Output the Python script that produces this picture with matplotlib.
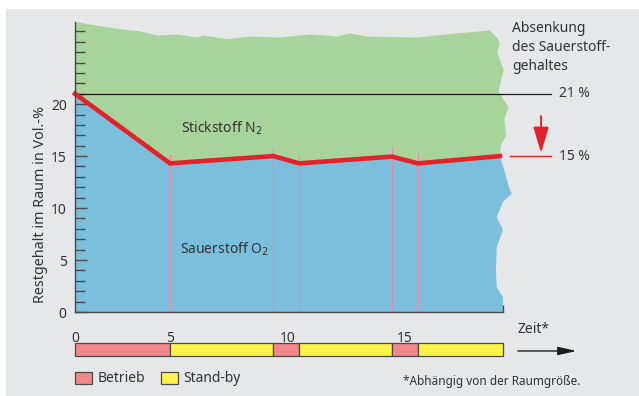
import numpy as np
import matplotlib.pyplot as plt
from matplotlib.patches import Rectangle, Patch

plt.rcParams['font.family'] = ['Noto Sans', 'DejaVu Sans']

# schematic time axis: 0..5 is drawn narrower than the rest
scale_t = [-50, 0, 5, 50]
scale_u = [-950, 0, 95, 95 + 45 * 23.5]

# operating phases shown in the bar below the chart
phase_edges = [0, 5, 9.4, 10.5, 14.45, 15.55, 19.17]
phase_names = ["Betrieb", "Stand-by", "Betrieb", "Stand-by", "Betrieb", "Stand-by"]
phase_colors = {"Betrieb": "#f1868b", "Stand-by": "#fff34a"}

# remaining oxygen (Vol.-%)
o2_t = [0, 5, 9.4, 10.5, 14.45, 15.55, 19.04]
o2_val = [21, 14.3, 15.0, 14.3, 14.95, 14.3, 15.0]
switch_top = [15.1, 15.8, 15.1, 15.8, 15.2]   # pink markers at o2_t[1:6]

# torn-paper edges of the coloured areas
n2_top_t = [0, 0.95, 2.37, 3.42, 4.32, 5.3, 6.15, 6.4, 7.43, 8.4, 9.68, 10.96,
            12.1, 12.66, 13.4, 15.5, 17.2, 18.2, 18.6, 18.9, 19.04]
n2_top_val = [27.9, 27.6, 27.2, 27.0, 26.6, 26.7, 26.4, 26.6, 26.25, 26.5, 26.4,
              26.7, 26.5, 26.8, 26.5, 26.4, 26.8, 27.0, 27.1, 26.4, 25.9]
n2_right_t = [19.0, 18.94, 19.2, 18.98, 19.4, 19.23, 19.3, 19.06, 19.04]
n2_right_val = [25.7, 24.9, 23.3, 21.2, 19.7, 18.5, 17.0, 15.9, 15.0]
o2_right_t = [19.47, 19.55, 19.17, 18.9, 19.17, 18.9, 18.87, 18.9, 19.17, 19.17]
o2_right_val = [11.7, 11.4, 10.6, 9.1, 7.9, 6.25, 4.0, 2.4, 1.4, 0]

t_end = 19.17
y_top = 27.9
start_level = 21
target_level = 15

green = "#a8d49b"
blue = "#7bbfdd"
red = "#e3232a"
pink = "#ec87ab"
txt = "#333333"
dark = "#4a4a4a"


def fwd(t):
    return np.interp(t, scale_t, scale_u)


def inv(u):
    return np.interp(u, scale_u, scale_t)


fig = plt.figure(figsize=(6.39, 3.96), dpi=100)
fig.patches.append(Rectangle((6 / 639, 0), 1, 1 - 9 / 396, transform=fig.transFigure,
                             facecolor="#e6e7e8", edgecolor="none", zorder=-10))

ax = fig.add_axes([75 / 639, 84 / 396, 428 / 639, 290 / 396])
ax.set_facecolor("none")
ax.set_xscale("function", functions=(fwd, inv))
ax.set_xlim(0, t_end)
ax.set_ylim(0, y_top)

# nitrogen area (above the O2 line)
gx = n2_top_t + n2_right_t + o2_t[::-1]
gy = n2_top_val + n2_right_val + o2_val[::-1]
ax.fill(gx, gy, color=green, lw=0, zorder=1, clip_on=False)
# oxygen area
bx = o2_t + o2_right_t + [0]
by = o2_val + o2_right_val + [0]
ax.fill(bx, by, color=blue, lw=0, zorder=1, clip_on=False)

for t, top in zip(o2_t[1:6], switch_top):
    ax.plot([t, t], [0, top], color=pink, lw=0.9, zorder=2)

ax.plot(o2_t, o2_val, color=red, lw=3.3, solid_joinstyle="miter", zorder=4, clip_on=False)

ax.plot([0, 21.2], [start_level, start_level], color="#1a1a1a", lw=0.9, zorder=3, clip_on=False)
ax.plot([19.47, 21.2], [target_level, target_level], color=red, lw=1.0, zorder=3, clip_on=False)
ax.text(21.55, start_level, "21 %", color=txt, fontsize=10, va="center", ha="left")
ax.text(21.55, target_level, "15 %", color=txt, fontsize=10, va="center", ha="left")
ax.annotate("", xy=(20.79, 15.3), xytext=(20.79, 18.85), annotation_clip=False,
            arrowprops=dict(arrowstyle="-|>,head_length=1.1,head_width=0.33",
                            mutation_scale=14.4, color=red, lw=1.4, shrinkA=0, shrinkB=0))
ax.text(19.55, 28.0, "Absenkung\ndes Sauerstoff-\ngehaltes", color=txt, fontsize=10,
        va="top", ha="left", linespacing=1.35)

ax.text(5.45, 17.7, "Stickstoff N$_2$", color=txt, fontsize=10, va="center", ha="left", zorder=5)
ax.text(5.43, 6.05, "Sauerstoff O$_2$", color=txt, fontsize=10, va="center", ha="left", zorder=5)

ax.spines[["top", "right"]].set_visible(False)
for s in ["left", "bottom"]:
    ax.spines[s].set_color(dark)
    ax.spines[s].set_linewidth(1.0)
    ax.spines[s].set_zorder(6)

ax.set_yticks([0, 5, 10, 15, 20])
ax.set_yticks(np.arange(1, 28), minor=True)
ax.tick_params(axis="y", which="major", direction="in", length=8.5, width=1.0,
               color=dark, labelcolor=txt, labelsize=10, pad=6)
ax.tick_params(axis="y", which="minor", direction="in", length=7.5, width=1.0, color=dark)
ax.set_xticks([0, 5, 10, 15])
ax.set_xticks([10, 15, t_end], minor=True)
ax.tick_params(axis="x", which="major", length=0, labelcolor=txt, labelsize=10, pad=14)
ax.tick_params(axis="x", which="minor", direction="in", length=5, width=1.0, color=dark)
ax.set_ylabel("Restgehalt im Raum in Vol.-%", color=txt, fontsize=10.3)
ax.yaxis.set_label_coords(-0.063, 0.369)

ax.text(19.77, -1.7, "Zeit*", color=txt, fontsize=10, va="center", ha="left")
ax.annotate("", xy=(22.3, -3.75), xytext=(19.8, -3.75), annotation_clip=False,
            arrowprops=dict(arrowstyle="-|>,head_length=0.8,head_width=0.18",
                            mutation_scale=14, color="#1a1a1a", lw=1.0, shrinkA=0, shrinkB=0))

# phase bar
bar = fig.add_axes([75 / 639, 40 / 396, 428 / 639, 13 / 396])
bar.set_xscale("function", functions=(fwd, inv))
bar.set_xlim(0, t_end)
bar.set_ylim(0, 1)
lefts = phase_edges[:-1]
widths = np.diff(phase_edges)
bar.barh(0.5, widths, left=lefts, height=1, color=[phase_colors[n] for n in phase_names],
         edgecolor=dark, lw=0.9, clip_on=False)
bar.axis("off")

handles = [Patch(facecolor=phase_colors[n], edgecolor=dark, lw=0.9, label=n)
           for n in ["Betrieb", "Stand-by"]]
fig.legend(handles=handles, loc="center left", bbox_to_anchor=(75 / 639, 1 - 379 / 396),
           ncol=2, frameon=False, fontsize=10, handlelength=1.25, handleheight=1.0,
           handletextpad=0.4, columnspacing=1.1, borderpad=0, borderaxespad=0,
           labelcolor=txt)
fig.text(403 / 639, 1 - 382 / 396, "*Abhängig von der Raumgröße.", color=txt,
         fontsize=8.5, va="center", ha="left")

fig.savefig("out.png", dpi=100)
